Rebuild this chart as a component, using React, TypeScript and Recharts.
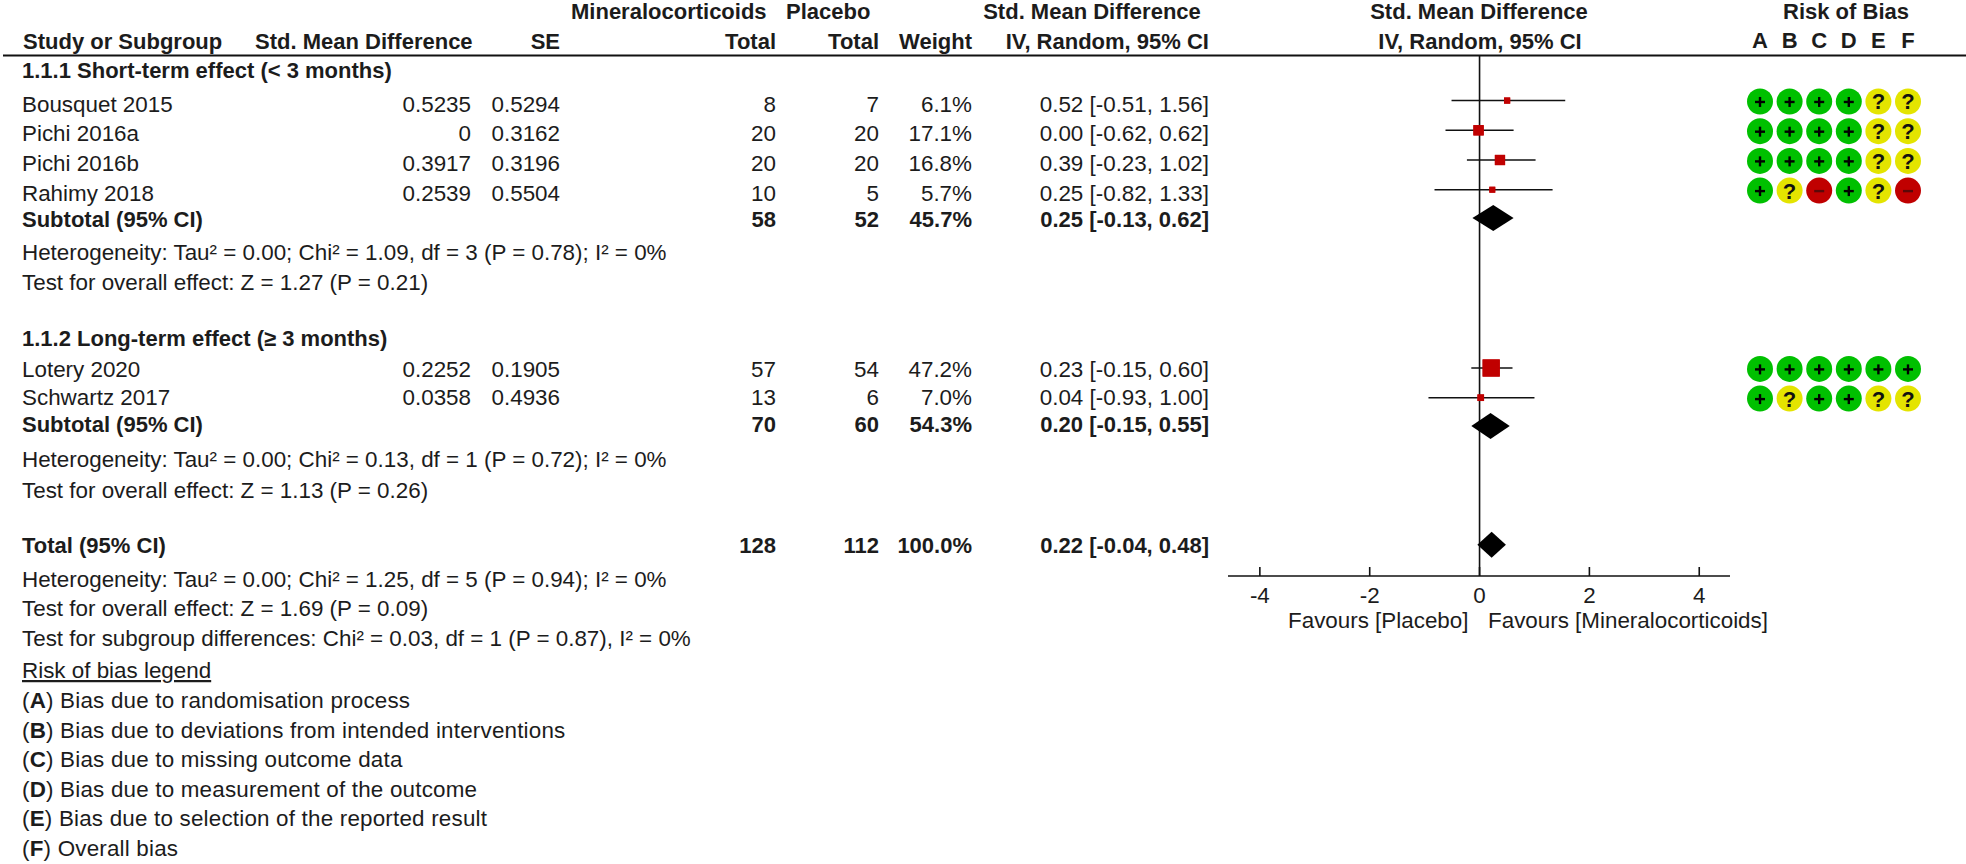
import React from 'react';
import { ErrorBar, ReferenceLine, Scatter, ScatterChart, XAxis, YAxis } from 'recharts';

// study level values
const studies = ['Bousquet 2015', 'Pichi 2016a', 'Pichi 2016b', 'Rahimy 2018', 'Lotery 2020', 'Schwartz 2017'];
const smdInput = ['0.5235', '0', '0.3917', '0.2539', '0.2252', '0.0358'];
const seInput = ['0.5294', '0.3162', '0.3196', '0.5504', '0.1905', '0.4936'];
const treatTotals = [8, 20, 20, 10, 57, 13];
const placeboTotals = [7, 20, 20, 5, 54, 6];
const weights = [6.1, 17.1, 16.8, 5.7, 47.2, 7.0];
const estimates = [0.52, 0.0, 0.39, 0.25, 0.23, 0.04];
const ciLow = [-0.51, -0.62, -0.23, -0.82, -0.15, -0.93];
const ciHigh = [1.56, 0.62, 1.02, 1.33, 0.6, 1.0];

// pooled values: short-term, long-term, total
const poolLabels = ['Subtotal (95% CI)', 'Subtotal (95% CI)', 'Total (95% CI)'];
const poolTreat = [58, 70, 128];
const poolPlacebo = [52, 60, 112];
const poolWeights = ['45.7%', '54.3%', '100.0%'];
const poolEst = [0.25, 0.2, 0.22];
const poolLow = [-0.13, -0.15, -0.04];
const poolHigh = [0.62, 0.55, 0.48];

// risk of bias judgements per study, domains A-F
const domains = ['A', 'B', 'C', 'D', 'E', 'F'];
const judgements = [
  ['+', '+', '+', '+', '?', '?'],
  ['+', '+', '+', '+', '?', '?'],
  ['+', '+', '+', '+', '?', '?'],
  ['+', '?', '-', '+', '?', '-'],
  ['+', '+', '+', '+', '+', '+'],
  ['+', '?', '+', '+', '?', '?'],
];

const xTicks = [-4, -2, 0, 2, 4];
const legendItems = [
  ['A', 'Bias due to randomisation process'],
  ['B', 'Bias due to deviations from intended interventions'],
  ['C', 'Bias due to missing outcome data'],
  ['D', 'Bias due to measurement of the outcome'],
  ['E', 'Bias due to selection of the reported result'],
  ['F', 'Overall bias'],
];

// layout
const W = 1966;
const H = 864;
const PLOT_LEFT = 1228;
const PLOT_RIGHT = 1730;
const PLOT_TOP = 56;
const PLOT_BOTTOM = 576;
const X_MIN = -4.58;
const X_MAX = 4.56;
const PX_PER_UNIT = (PLOT_RIGHT - PLOT_LEFT) / (X_MAX - X_MIN);
const ROW_MAX = 17.5;
const STUDY_MARK_ROWS = [1.5, 2.5, 3.5, 4.5, 10.5, 11.5];
const POOL_MARK_ROWS = [5.45, 12.45, 16.45];
const STUDY_TEXT_Y = [105, 134, 164, 194, 370, 398];
const POOL_TEXT_Y = [220, 425, 546];
const FONT = '"Liberation Sans", Arial, sans-serif';
const FS = 22.4;
const FS_BOLD = 22;
const INK = '#1c1c1c';

const fmtCi = (e: number, lo: number, hi: number) => `${e.toFixed(2)} [${lo.toFixed(2)}, ${hi.toFixed(2)}]`;

const studyPoints = studies.map((name, i) => ({
  name,
  x: estimates[i],
  row: STUDY_MARK_ROWS[i],
  weight: weights[i],
  err: [estimates[i] - ciLow[i], ciHigh[i] - estimates[i]],
}));
const poolPoints = poolEst.map((e, i) => ({ x: e, row: POOL_MARK_ROWS[i], lo: poolLow[i], hi: poolHigh[i] }));

const riskPoints = judgements.flatMap((marks, s) =>
  marks.map((mark, d) => ({ x: d, row: STUDY_MARK_ROWS[s] + 0.03, mark })),
);

const Square = (props: any) => {
  const side = Math.sqrt(props.payload.weight) * 2.5;
  return <rect x={props.cx - side / 2 - 1} y={props.cy - side / 2} width={side} height={side} fill="#c00000" />;
};

const Diamond = (props: any) => {
  const { cx, cy, payload } = props;
  const left = cx - (payload.x - payload.lo) * PX_PER_UNIT;
  const right = cx + (payload.hi - payload.x) * PX_PER_UNIT;
  return <polygon points={`${left},${cy} ${cx},${cy - 13} ${right},${cy} ${cx},${cy + 13}`} fill="#000" />;
};

const riskColors: Record<string, string> = { '+': '#00c000', '?': '#e4e400', '-': '#c00000' };

const RiskDot = (props: any) => {
  const { cx, cy, payload } = props;
  const mark = payload.mark;
  return (
    <g>
      <circle cx={cx} cy={cy} r={13} fill={riskColors[mark]} />
      {mark === '?' ? (
        <text x={cx} y={cy + 8} textAnchor="middle" fontFamily={FONT} fontWeight="bold" fontSize={22} fill="#111">?</text>
      ) : (
        <g stroke={mark === '+' ? '#000' : '#5a0808'} strokeWidth={2.4}>
          <line x1={cx - 5} x2={cx + 5} y1={cy + 0.5} y2={cy + 0.5} />
          {mark === '+' && <line x1={cx} x2={cx} y1={cy - 4.5} y2={cy + 5.5} />}
        </g>
      )}
    </g>
  );
};

const ForestTick = (props: any) => {
  const { x, payload } = props;
  return (
    <g>
      <line x1={x} x2={x} y1={PLOT_BOTTOM - 9} y2={PLOT_BOTTOM} stroke="#111" strokeWidth={1.6} />
      <text x={x} y={PLOT_BOTTOM + 27} textAnchor="middle" fontFamily={FONT} fontSize={FS} fill={INK}>
        {payload.value}
      </text>
    </g>
  );
};

const T = ({ x, y, anchor = 'start', bold = false, spacing = 0, children }: any) => (
  <text
    x={x}
    y={y + 7}
    textAnchor={anchor}
    fontFamily={FONT}
    fontSize={bold ? FS_BOLD : FS}
    fontWeight={bold ? 'bold' : 'normal'}
    letterSpacing={spacing}
    fill={INK}
  >
    {children}
  </text>
);

const NoteLines = ({ lines, ys }: { lines: string[]; ys: number[] }) => (
  <>
    {lines.map((line, i) => (
      <T key={i} x={22} y={ys[i]}>{line}</T>
    ))}
  </>
);

const Table = () => (
  <svg width={W} height={H} style={{ position: 'absolute', left: 0, top: 0 }}>
    <line x1={3} x2={W} y1={55.5} y2={55.5} stroke="#111" strokeWidth={2} />
    <T x={571} y={12} bold>Mineralocorticoids</T>
    <T x={786} y={12} bold>Placebo</T>
    <T x={1092} y={12} anchor="middle" bold>Std. Mean Difference</T>
    <T x={1479} y={12} anchor="middle" bold>Std. Mean Difference</T>
    <T x={1846} y={12} anchor="middle" bold>Risk of Bias</T>
    <T x={23} y={42} bold>Study or Subgroup</T>
    <T x={255} y={42} bold>Std. Mean Difference</T>
    <T x={560} y={42} anchor="end" bold>SE</T>
    <T x={776} y={42} anchor="end" bold>Total</T>
    <T x={879} y={42} anchor="end" bold>Total</T>
    <T x={972} y={42} anchor="end" bold>Weight</T>
    <T x={1209} y={42} anchor="end" bold>IV, Random, 95% CI</T>
    <T x={1480} y={42} anchor="middle" bold>IV, Random, 95% CI</T>

    <T x={22} y={71} bold>1.1.1 Short-term effect (&lt; 3 months)</T>
    <T x={22} y={339} bold>1.1.2 Long-term effect (≥ 3 months)</T>

    {studies.map((name, i) => (
      <g key={name}>
        <T x={22} y={STUDY_TEXT_Y[i]}>{name}</T>
        <T x={471} y={STUDY_TEXT_Y[i]} anchor="end">{smdInput[i]}</T>
        <T x={560} y={STUDY_TEXT_Y[i]} anchor="end">{seInput[i]}</T>
        <T x={776} y={STUDY_TEXT_Y[i]} anchor="end">{treatTotals[i]}</T>
        <T x={879} y={STUDY_TEXT_Y[i]} anchor="end">{placeboTotals[i]}</T>
        <T x={972} y={STUDY_TEXT_Y[i]} anchor="end">{weights[i].toFixed(1)}%</T>
        <T x={1209} y={STUDY_TEXT_Y[i]} anchor="end">{fmtCi(estimates[i], ciLow[i], ciHigh[i])}</T>
      </g>
    ))}

    {poolLabels.map((label, i) => (
      <g key={i}>
        <T x={22} y={POOL_TEXT_Y[i]} bold>{label}</T>
        <T x={776} y={POOL_TEXT_Y[i]} anchor="end" bold>{poolTreat[i]}</T>
        <T x={879} y={POOL_TEXT_Y[i]} anchor="end" bold>{poolPlacebo[i]}</T>
        <T x={972} y={POOL_TEXT_Y[i]} anchor="end" bold>{poolWeights[i]}</T>
        <T x={1209} y={POOL_TEXT_Y[i]} anchor="end" bold>{fmtCi(poolEst[i], poolLow[i], poolHigh[i])}</T>
      </g>
    ))}

    <NoteLines
      ys={[253, 283, 460, 491, 580, 609, 639]}
      lines={[
        'Heterogeneity: Tau² = 0.00; Chi² = 1.09, df = 3 (P = 0.78); I² = 0%',
        'Test for overall effect: Z = 1.27 (P = 0.21)',
        'Heterogeneity: Tau² = 0.00; Chi² = 0.13, df = 1 (P = 0.72); I² = 0%',
        'Test for overall effect: Z = 1.13 (P = 0.26)',
        'Heterogeneity: Tau² = 0.00; Chi² = 1.25, df = 5 (P = 0.94); I² = 0%',
        'Test for overall effect: Z = 1.69 (P = 0.09)',
        'Test for subgroup differences: Chi² = 0.03, df = 1 (P = 0.87), I² = 0%',
      ]}
    />
    <text x={22} y={678} fontFamily={FONT} fontSize={FS} fill={INK} textDecoration="underline">Risk of bias legend</text>
    {legendItems.map(([letter, text], i) => (
      <T key={letter} x={22} y={701 + i * 29.6} spacing={0.2}>
        (<tspan fontWeight="bold">{letter}</tspan>) {text}
      </T>
    ))}

    <T x={1288} y={621}>Favours [Placebo]</T>
    <T x={1488} y={621}>Favours [Mineralocorticoids]</T>
  </svg>
);

export default function App() {
  return (
    <div style={{ position: 'absolute', left: 0, top: 0, width: W, height: H, background: '#fff', overflow: 'hidden' }}>
      <Table />
      <div style={{ position: 'absolute', left: 0, top: 0 }}>
        <ScatterChart
          width={W}
          height={H}
          margin={{ left: PLOT_LEFT, right: W - PLOT_RIGHT, top: PLOT_TOP, bottom: H - PLOT_BOTTOM - 40 }}
        >
          <XAxis
            type="number"
            dataKey="x"
            domain={[X_MIN, X_MAX]}
            ticks={xTicks}
            height={40}
            interval={0}
            tickLine={false}
            tick={<ForestTick />}
            axisLine={{ stroke: '#111', strokeWidth: 1.6 }}
          />
          <YAxis type="number" dataKey="row" domain={[0, ROW_MAX]} reversed hide />
          <ReferenceLine x={0} stroke="#111" strokeWidth={1.6} />
          <Scatter data={studyPoints} shape={<Square />} isAnimationActive={false}>
            <ErrorBar dataKey="err" direction="x" width={0} stroke="#111" strokeWidth={1.6} isAnimationActive={false} />
          </Scatter>
          <Scatter data={studyPoints} shape={<Square />} isAnimationActive={false} />
          <Scatter data={poolPoints} shape={<Diamond />} isAnimationActive={false} />
        </ScatterChart>
      </div>
      <div style={{ position: 'absolute', left: 1700, top: 0 }}>
        <ScatterChart width={266} height={PLOT_BOTTOM} margin={{ left: 60, right: 58, top: PLOT_TOP - 30, bottom: 0 }}>
          <XAxis
            xAxisId={0}
            orientation="top"
            type="number"
            dataKey="x"
            domain={[0, domains.length - 1]}
            ticks={domains.map((_, i) => i)}
            interval={0}
            height={30}
            axisLine={false}
            tickLine={false}
            tickMargin={2}
            tickFormatter={(v: number) => domains[v]}
            tick={{ fontFamily: FONT, fontSize: FS_BOLD, fontWeight: 'bold', fill: INK }}
          />
          <YAxis type="number" dataKey="row" domain={[0, ROW_MAX]} reversed hide />
          <Scatter data={riskPoints} shape={<RiskDot />} isAnimationActive={false} />
        </ScatterChart>
      </div>
    </div>
  );
}
